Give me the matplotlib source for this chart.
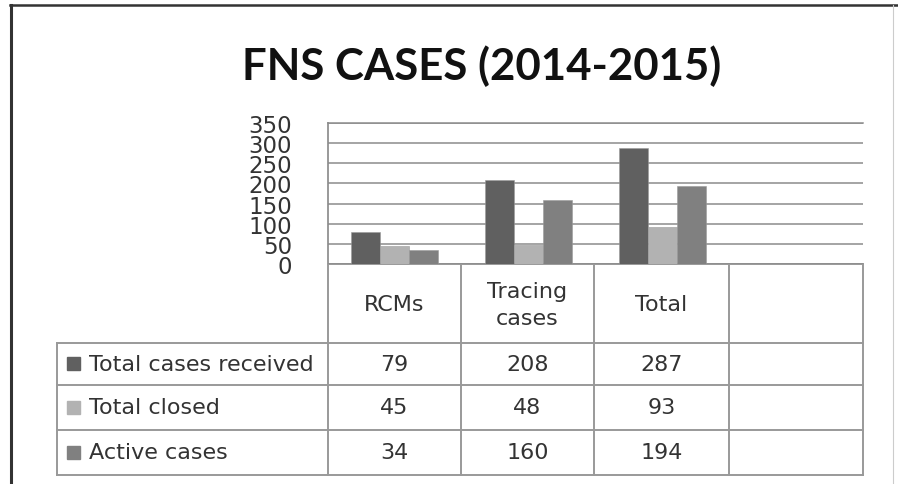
import matplotlib
matplotlib.use("Agg")
import matplotlib.pyplot as plt
from matplotlib.patches import Rectangle

# ---- data ----
categories = ["RCMs", "Tracing\ncases", "Total", ""]
series_names = ["Total cases received", "Total closed", "Active cases"]
received = [79, 208, 287]
closed = [45, 48, 93]
active = [34, 160, 194]
y_ticks = [0, 50, 100, 150, 200, 250, 300, 350]
title = "FNS CASES (2014-2015)"

colors = ["#606060", "#b2b2b2", "#808080"]
grid_c = "#8c8c8c"
text_c = "#333333"

W, H = 898, 485
fig = plt.figure(figsize=(W / 100, H / 100), dpi=100)

# overlay in pixel coordinates
ov = fig.add_axes([0, 0, 1, 1])
ov.set_xlim(0, W)
ov.set_ylim(H, 0)
ov.axis("off")

# outer frame
ov.plot([10, W], [6, 6], color="#333333", lw=1.8)
ov.plot([11, 11], [6, H], color="#333333", lw=2.2)
ov.plot([893, 893], [6, H], color="#cccccc", lw=0.8)

# title
ov.text(482, 66, title, ha="center", va="center", fontsize=31.5,
        fontweight="bold", family="Lato", color="#111111")

# plot area geometry (pixels)
px_l, px_r = 328, 863
py_top, py_zero = 124, 265
ax = fig.add_axes([px_l / W, 1 - py_zero / H, (px_r - px_l) / W, (py_zero - py_top) / H])
ax.patch.set_alpha(0)
ax.set_xlim(-0.5, len(categories) - 0.5)
ax.set_ylim(0, 350)
bw = 0.217
series = [received, closed, active]
for i, (vals, c) in enumerate(zip(series, colors)):
    xs = [k + (i - 1) * bw for k in range(len(vals))]
    ax.bar(xs, vals, width=bw, color=c, edgecolor="#9a9a9a", lw=0.4, zorder=3)
ax.set_yticks(y_ticks)
ax.set_yticklabels([str(v) for v in y_ticks], fontsize=16.5, color=text_c, family="DejaVu Sans")
ax.tick_params(axis="y", length=0, pad=26)
ax.set_xticks([])
ax.grid(axis="y", color=grid_c, lw=1.1, zorder=0)
for s in ["right", "bottom"]:
    ax.spines[s].set_visible(False)
ax.spines["top"].set_color(grid_c)
ax.spines["top"].set_linewidth(1.1)
ax.spines["left"].set_visible(False)

# table geometry (pixels)
col_edges = [328, 461, 594, 729, 863]
row_edges = [265, 344, 386, 431, 476]
lab_l = 57
tc = "#999999"
tlw = 1.4
# vertical lines
ov.plot([328, 328], [py_top, row_edges[-1]], color=tc, lw=tlw)
for x in col_edges[1:]:
    ov.plot([x, x], [row_edges[0], row_edges[-1]], color=tc, lw=tlw)
ov.plot([lab_l, lab_l], [row_edges[1], row_edges[-1]], color=tc, lw=tlw)
# horizontal lines
ov.plot([col_edges[0], col_edges[-1]], [row_edges[0]] * 2, color=tc, lw=tlw)
for y in row_edges[1:]:
    ov.plot([lab_l, col_edges[-1]], [y, y], color=tc, lw=tlw)

fs = 16
# header
for k, cat in enumerate(categories):
    cx = (col_edges[k] + col_edges[k + 1]) / 2
    ov.text(cx, (row_edges[0] + row_edges[1]) / 2 + 1, cat, ha="center", va="center",
            fontsize=fs, color=text_c, linespacing=1.4)
# rows
for r, (name, vals, c) in enumerate(zip(series_names, series, colors)):
    cy = (row_edges[r + 1] + row_edges[r + 2]) / 2
    ov.add_patch(Rectangle((67, cy - 7), 13, 13, color=c))
    ov.text(89, cy, name, ha="left", va="center", fontsize=fs, color=text_c)
    for k, v in enumerate(vals):
        cx = (col_edges[k] + col_edges[k + 1]) / 2
        ov.text(cx, cy, str(v), ha="center", va="center", fontsize=fs, color=text_c)

fig.savefig("out.png", dpi=100)
